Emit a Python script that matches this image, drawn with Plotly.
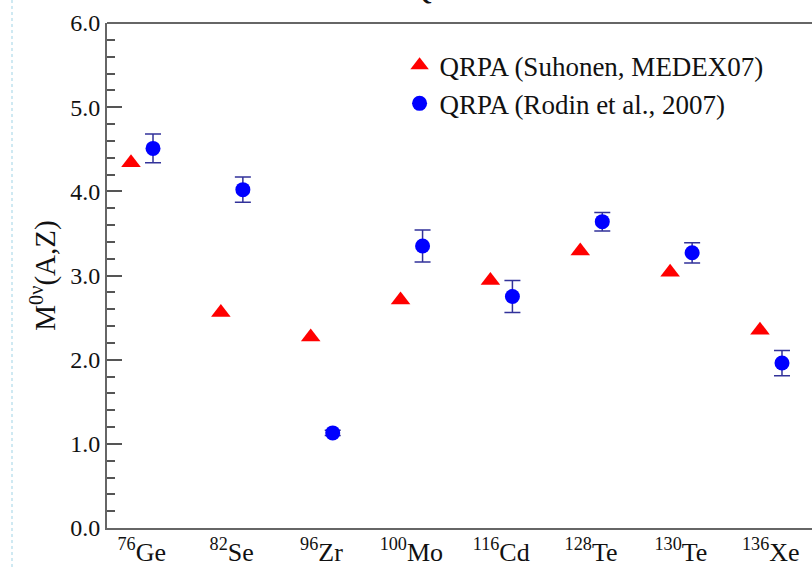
import plotly.graph_objects as go

nuclei = ["<sup>76</sup>Ge", "<sup>82</sup>Se", "<sup>96</sup>Zr", "<sup>100</sup>Mo",
          "<sup>116</sup>Cd", "<sup>128</sup>Te", "<sup>130</sup>Te", "<sup>136</sup>Xe"]
cat_pos = [1, 2, 3, 4, 5, 6, 7, 8]
suhonen = [4.34, 2.56, 2.27, 2.71, 2.94, 3.29, 3.04, 2.35]
rodin = [4.51, 4.02, 1.13, 3.35, 2.75, 3.64, 3.27, 1.96]
rodin_err = [0.17, 0.15, 0.03, 0.19, 0.19, 0.11, 0.12, 0.15]
y_ticks = [0, 1, 2, 3, 4, 5, 6]

OFF_L, OFF_R = -0.12, 0.125
SERIF = "Liberation Serif"

fig = go.Figure()
fig.add_trace(go.Scatter(
    x=[p + OFF_L for p in cat_pos], y=suhonen, mode="markers",
    name="QRPA (Suhonen, MEDEX07)",
    marker=dict(symbol="triangle-up", size=17, color="#ff0000", line=dict(width=0)),
))
fig.add_trace(go.Scatter(
    x=[p + OFF_R for p in cat_pos], y=rodin, mode="markers",
    name="QRPA (Rodin et al., 2007)",
    marker=dict(symbol="circle", size=15, color="#0000ff", line=dict(width=0)),
    error_y=dict(type="data", array=rodin_err, visible=True, color="#32329a",
                 thickness=1.5, width=8),
))

fig.update_layout(
    width=812, height=567,
    margin=dict(l=107, r=0, t=23, b=39),
    paper_bgcolor="white", plot_bgcolor="white",
    font=dict(family="Liberation Serif, serif", color="#111111", size=22),
    showlegend=True,
    legend=dict(x=0.415, y=0.964, xanchor="left", yanchor="top",
                bgcolor="rgba(0,0,0,0)", font=dict(size=27, family=SERIF),
                itemwidth=30, tracegroupgap=0),
    xaxis=dict(range=[0.613, 8.459], tickmode="array", tickvals=cat_pos, ticktext=nuclei,
               ticks="", showline=True, linecolor="#666666", linewidth=2,
               showgrid=False, zeroline=False, tickfont=dict(size=26, family=SERIF)),
    yaxis=dict(range=[0, 6], tickmode="array", tickvals=y_ticks,
               ticktext=["%.1f" % v for v in y_ticks],
               ticks="inside", ticklen=15, tickwidth=1.5, tickcolor="#555555",
               minor=dict(dtick=0.2, tick0=0, ticks="inside", ticklen=8,
                          tickwidth=1.5, tickcolor="#555555", showgrid=False),
               showline=True, linecolor="#666666", linewidth=2,
               showgrid=False, zeroline=False, tickfont=dict(size=24, family=SERIF),
               title=dict(text="M<sup>0ν</sup>(A,Z)", font=dict(size=29, family=SERIF),
                          standoff=6)),
)

# top frame line
fig.add_shape(type="line", xref="paper", yref="paper", x0=0, x1=1, y0=1, y1=1,
              line=dict(color="#666666", width=2))
# slide border dotted line at the far left
fig.add_shape(type="line", xref="paper", yref="paper", x0=-95/705, x1=-95/705,
              y0=-39/505, y1=1 + 23/505, line=dict(color="#cfe9f2", width=2, dash="dot"))
# title, mostly outside the visible window
fig.add_annotation(text="QRPA", xref="paper", yref="paper", x=(408 - 107) / 705,
                   y=1 + 16 / 505, xanchor="left", yanchor="bottom", showarrow=False,
                   font=dict(size=30, family=SERIF, color="#111111"))

fig.write_html("out.html")
